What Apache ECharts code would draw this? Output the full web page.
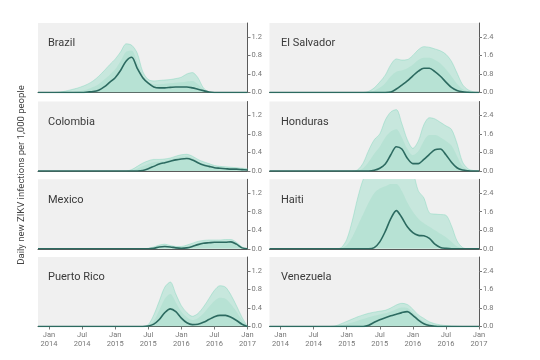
<!DOCTYPE html>
<html><head><meta charset="utf-8">
<script src="https://cdn.jsdelivr.net/npm/echarts@6/dist/echarts.min.js"></script>
<style>html,body{margin:0;padding:0;background:#fff}#c{width:540px;height:360px}</style>
</head><body><div id="c"></div>
<script>
// months since Jan 2014 (index 0 = Nov 2013)
const months = [-2,-1,0,1,2,3,4,5,6,7,8,9,10,11,12,13,14,15,16,17,18,19,20,21,22,23,24,25,26,27,28,29,30,31,32,33,34,35,36];
const tickMonths = [0,6,12,18,24,30,36];
const tickLabels = ['Jan\n2014','Jul\n2014','Jan\n2015','Jul\n2015','Jan\n2016','Jul\n2016','Jan\n2017'];
const leftYTicks = [0, 0.4, 0.8, 1.2];
const rightYTicks = [0, 0.8, 1.6, 2.4];
const countryNames = ['Brazil','Colombia','Mexico','Puerto Rico','El Salvador','Honduras','Haiti','Venezuela'];
const yTitle = 'Daily new ZIKV infections per 1,000 people';

const brazilMedian = [0,0,0,0,0,0,0,0,0, 0.01,0.02,0.05,0.12,0.22,0.32,0.48,0.68,0.76,0.52, 0.32,0.2,0.12,0.1,0.1,0.11,0.12,0.12,0.12,0.1, 0.07,0.04,0.01,0,0,0,0,0,0,0];
const brazilUpper  = [0,0,0,0,0.01,0.03,0.06,0.09,0.13, 0.18,0.25,0.35,0.47,0.6,0.72,0.88,1.05,1.02,0.85, 0.45,0.28,0.25,0.26,0.27,0.28,0.3,0.33,0.4,0.43, 0.32,0.1,0.01,0,0,0,0,0,0,0];
const brazilMid    = [0,0,0,0,0,0,0,0.02,0.04, 0.07,0.12,0.18,0.28,0.38,0.5,0.68,0.88,0.9,0.65, 0.38,0.22,0.18,0.18,0.19,0.2,0.21,0.22,0.24,0.25, 0.18,0.06,0,0,0,0,0,0,0,0];

const colombiaMedian = [0,0,0,0,0,0,0,0,0, 0,0,0,0,0,0,0,0,0,0, 0.01,0.05,0.1,0.15,0.18,0.21,0.24,0.26,0.27,0.24, 0.18,0.13,0.1,0.07,0.06,0.05,0.04,0.04,0.03,0.02];
const colombiaUpper  = [0,0,0,0,0,0,0,0,0, 0,0,0,0,0,0,0,0,0.03,0.1, 0.17,0.22,0.25,0.25,0.26,0.28,0.32,0.35,0.36,0.32, 0.25,0.2,0.16,0.12,0.1,0.09,0.08,0.07,0.06,0.05];
const colombiaMid    = [0,0,0,0,0,0,0,0,0, 0,0,0,0,0,0,0,0,0.01,0.05, 0.1,0.15,0.19,0.2,0.22,0.25,0.28,0.31,0.32,0.28, 0.21,0.16,0.13,0.1,0.08,0.07,0.06,0.05,0.05,0.04];

const mexicoMedian = [0,0,0,0,0,0,0,0,0, 0,0,0,0,0,0,0,0,0,0, 0,0,0.01,0.04,0.05,0.04,0.02,0.01,0.02,0.05, 0.09,0.12,0.13,0.14,0.14,0.14,0.15,0.1,0.02,0];
const mexicoUpper  = [0,0,0,0,0,0,0,0,0, 0,0,0,0,0,0,0,0,0,0, 0,0.01,0.04,0.08,0.1,0.07,0.05,0.05,0.08,0.12, 0.16,0.18,0.19,0.19,0.19,0.2,0.2,0.14,0.04,0];
const mexicoMid    = [0,0,0,0,0,0,0,0,0, 0,0,0,0,0,0,0,0,0,0, 0,0,0.02,0.06,0.07,0.05,0.03,0.03,0.05,0.08, 0.12,0.15,0.16,0.16,0.17,0.17,0.17,0.12,0.03,0];

const puertoRicoMedian = [0,0,0,0,0,0,0,0,0, 0,0,0,0,0,0,0,0,0,0, 0,0.01,0.05,0.15,0.3,0.38,0.32,0.18,0.08,0.04, 0.05,0.09,0.15,0.21,0.24,0.24,0.2,0.13,0.05,0];
const puertoRicoUpper  = [0,0,0,0,0,0,0,0,0, 0,0,0,0,0,0,0,0,0,0, 0,0.04,0.25,0.55,0.85,0.96,0.7,0.45,0.3,0.22, 0.28,0.42,0.6,0.78,0.88,0.85,0.68,0.45,0.2,0];
const puertoRicoMid    = [0,0,0,0,0,0,0,0,0, 0,0,0,0,0,0,0,0,0,0, 0,0.02,0.12,0.35,0.6,0.7,0.52,0.32,0.2,0.14, 0.18,0.28,0.42,0.55,0.62,0.6,0.48,0.32,0.14,0];

const elSalvadorMedian = [0,0,0,0,0,0,0,0,0, 0,0,0,0,0,0,0,0,0,0, 0,0,0,0.02,0.15,0.32,0.5,0.72,0.92,1.05, 1.05,0.9,0.7,0.45,0.22,0.09,0.03,0.01,0,0];
const elSalvadorUpper  = [0,0,0,0,0,0,0,0,0, 0,0,0,0,0,0,0,0,0,0.05, 0.2,0.45,0.75,1.2,1.45,1.4,1.42,1.6,1.85,1.98, 1.95,1.88,1.8,1.65,1.35,0.85,0.35,0.12,0.03,0];
const elSalvadorMid    = [0,0,0,0,0,0,0,0,0, 0,0,0,0,0,0,0,0,0,0.02, 0.08,0.2,0.4,0.7,0.9,0.95,1.05,1.2,1.4,1.5, 1.5,1.4,1.25,1.0,0.7,0.38,0.15,0.05,0.01,0];

const hondurasMedian = [0,0,0,0,0,0,0,0,0, 0,0,0,0,0,0,0,0,0,0, 0.03,0.12,0.3,0.7,1.05,0.95,0.55,0.32,0.32,0.5, 0.72,0.92,0.95,0.7,0.38,0.14,0.04,0.01,0,0];
const hondurasUpper  = [0,0,0,0,0,0,0,0,0, 0,0,0,0,0,0,0,0.05,0.35,0.9, 1.35,1.6,2.2,2.55,2.65,2.05,1.35,0.98,1.3,2.0, 2.3,2.25,2.1,1.95,1.8,1.2,0.4,0.1,0.02,0];
const hondurasMid    = [0,0,0,0,0,0,0,0,0, 0,0,0,0,0,0,0,0.01,0.12,0.4, 0.75,1.05,1.45,1.7,1.8,1.45,0.95,0.68,0.85,1.3, 1.55,1.55,1.45,1.3,1.1,0.65,0.2,0.05,0,0];

const haitiMedian = [0,0,0,0,0,0,0,0,0, 0,0,0,0,0,0,0,0,0,0, 0.05,0.3,0.75,1.3,1.65,1.35,0.95,0.7,0.58,0.56, 0.45,0.2,0.06,0.02,0,0,0,0,0,0];
const haitiUpper  = [0,0,0,0,0,0,0,0,0, 0,0,0,0,0.05,0.4,1.2,2.2,3.0,3.4, 3.5,3.5,3.5,3.5,3.5,3.5,3.5,3.3,2.5,2.2, 1.55,1.5,1.48,1.45,1.0,0.35,0.06,0,0,0];
const haitiMid    = [0,0,0,0,0,0,0,0,0, 0,0,0,0,0.02,0.15,0.5,1.0,1.5,2.0, 2.4,2.6,2.7,2.8,2.8,2.5,2.0,1.6,1.3,1.1, 0.95,0.8,0.65,0.5,0.3,0.1,0.02,0,0,0];

const venezuelaMedian = [0,0,0,0,0,0,0,0,0, 0,0,0,0,0,0,0,0,0,0.05, 0.18,0.29,0.38,0.46,0.53,0.6,0.64,0.48,0.28,0.12, 0.04,0.01,0,0,0,0,0,0,0,0];
const venezuelaUpper  = [0,0,0,0,0,0,0,0,0, 0,0,0,0.03,0.12,0.22,0.32,0.42,0.5,0.57, 0.62,0.66,0.7,0.8,0.93,1.0,0.95,0.75,0.5,0.35, 0.2,0.12,0.07,0.04,0.02,0.01,0,0,0,0];
const venezuelaMid    = [0,0,0,0,0,0,0,0,0, 0,0,0,0.01,0.05,0.1,0.17,0.25,0.32,0.4, 0.46,0.52,0.57,0.65,0.75,0.82,0.8,0.6,0.38,0.22, 0.12,0.06,0.03,0.01,0,0,0,0,0,0];

const panels = [
  {med: brazilMedian, mid: brazilMid, up: brazilUpper},
  {med: colombiaMedian, mid: colombiaMid, up: colombiaUpper},
  {med: mexicoMedian, mid: mexicoMid, up: mexicoUpper},
  {med: puertoRicoMedian, mid: puertoRicoMid, up: puertoRicoUpper},
  {med: elSalvadorMedian, mid: elSalvadorMid, up: elSalvadorUpper},
  {med: hondurasMedian, mid: hondurasMid, up: hondurasUpper},
  {med: haitiMedian, mid: haitiMid, up: haitiUpper},
  {med: venezuelaMedian, mid: venezuelaMid, up: venezuelaUpper}
];

const tops = [23, 101.5, 179.3, 257];
const lefts = [38, 269.5];
const gw = 209.5, gh = 69.5;

const grids = [], xAxes = [], yAxes = [], series = [], titles = [];
panels.forEach((p, i) => {
  const col = i < 4 ? 0 : 1, row = i % 4;
  const bottomRow = row === 3;
  grids.push({left: lefts[col], top: tops[row], width: gw, height: gh, show: true,
    backgroundColor: '#f0f0f0', borderWidth: 0});
  xAxes.push({type: 'value', gridIndex: i, min: -2, max: 36,
    axisLine: {show: true, onZero: false, lineStyle: {color: '#5a5a5a', width: 1}},
    axisTick: {show: bottomRow, customValues: tickMonths, length: 3, lineStyle: {color: '#777'}},
    axisLabel: {show: bottomRow, customValues: tickMonths, fontSize: 7.5, color: '#777', lineHeight: 9, margin: 4,
      fontFamily: 'Roboto',
      formatter: v => tickLabels[tickMonths.indexOf(v)] || ''},
    splitLine: {show: false}});
  const ymax = col === 0 ? 1.5 : 3.0;
  const yt = col === 0 ? leftYTicks : rightYTicks;
  yAxes.push({type: 'value', gridIndex: i, position: 'right', min: 0, max: ymax,
    axisLine: {show: true, onZero: false, lineStyle: {color: '#5a5a5a', width: 1}},
    axisTick: {show: true, customValues: yt, length: 3, lineStyle: {color: '#777'}},
    axisLabel: {customValues: yt, fontSize: 7.5, color: '#777', margin: 4, fontFamily: 'Roboto', formatter: v => v.toFixed(1)},
    splitLine: {show: false}});
  titles.push({text: countryNames[i], left: col === 0 ? 48 : 281, top: tops[row] + 15, padding: 0,
    textStyle: {fontSize: 11, fontWeight: 'normal', color: '#3a3a3a', fontFamily: 'Roboto'}});
  const mk = arr => months.map((m, k) => [m, arr[k]]);
  series.push({type: 'line', xAxisIndex: i, yAxisIndex: i, data: mk(p.up), smooth: 0.3, symbol: 'none',
    lineStyle: {width: 0.6, color: 'rgba(110,210,180,0.6)'}, areaStyle: {color: 'rgba(125,215,187,0.5)'}, z: 1, silent: true});
  series.push({type: 'line', xAxisIndex: i, yAxisIndex: i, data: mk(p.mid), smooth: 0.3, symbol: 'none',
    lineStyle: {width: 0}, areaStyle: {color: 'rgba(105,205,172,0.25)'}, z: 2, silent: true});
  series.push({type: 'line', xAxisIndex: i, yAxisIndex: i, data: mk(p.med), smooth: 0.3, symbol: 'none',
    lineStyle: {width: 1.6, color: '#2c6a60'}, z: 3, silent: true});
});

const chart = echarts.init(document.getElementById('c'), null, {renderer: 'canvas'});
chart.setOption({
  animation: false,
  backgroundColor: '#fff',
  title: titles,
  grid: grids, xAxis: xAxes, yAxis: yAxes, series: series,
  graphic: [{type: 'text', x: 22, y: 175, rotation: Math.PI / 2,
    style: {text: yTitle, fontSize: 9.5, fill: '#444', align: 'center', verticalAlign: 'middle', fontFamily: 'Roboto'}}]
});
</script>
</body></html>
